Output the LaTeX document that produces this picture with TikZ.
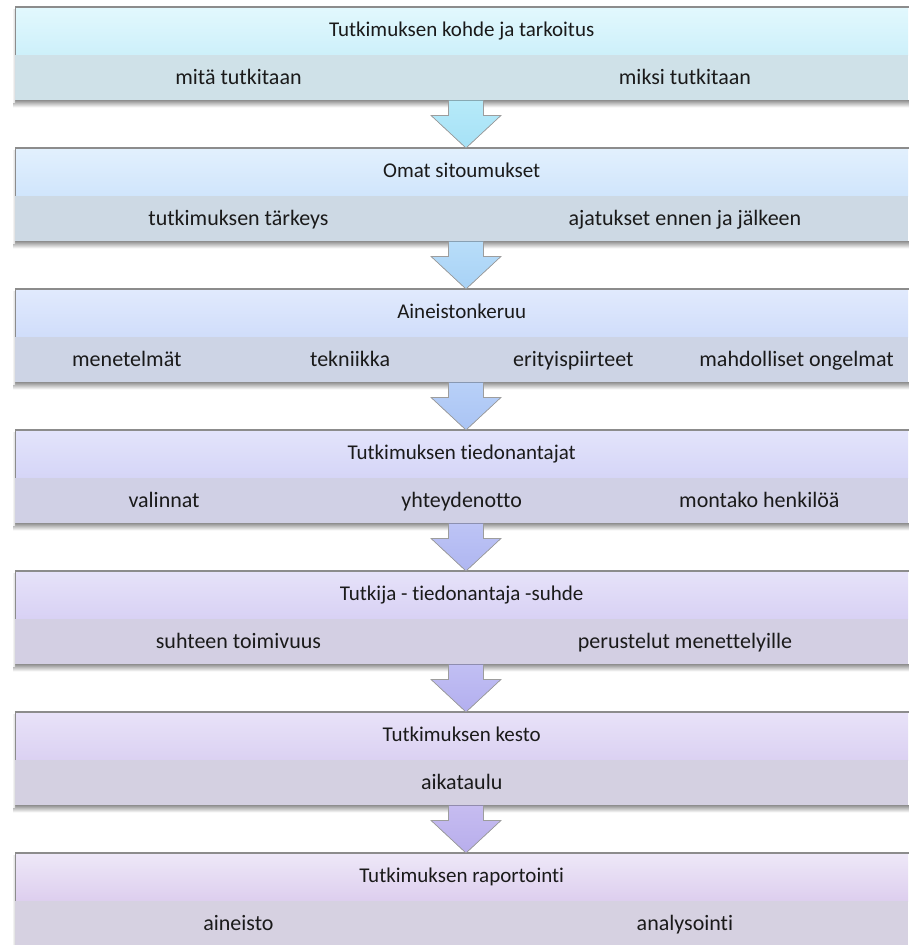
\documentclass[tikz,border=0pt]{standalone}
\usepackage{fontspec}
\setmainfont[Ligatures={NoCommon}]{Carlito}
\usetikzlibrary{calc}

% header gradients, sub-bar fills and arrow gradients for the seven stages
\definecolor{hdtopA}{HTML}{E2F8FD}\definecolor{hdbotA}{HTML}{CDF0FA}\definecolor{subA}{HTML}{CFE1E8}
\definecolor{hdtopB}{HTML}{E2F0FD}\definecolor{hdbotB}{HTML}{D0E5FC}\definecolor{subB}{HTML}{CDD9E4}
\definecolor{hdtopC}{HTML}{E1EAFD}\definecolor{hdbotC}{HTML}{D0DDFA}\definecolor{subC}{HTML}{CDD4E5}
\definecolor{hdtopD}{HTML}{E3E4FB}\definecolor{hdbotD}{HTML}{D5D5F7}\definecolor{subD}{HTML}{D0D0E5}
\definecolor{hdtopE}{HTML}{E6E2F9}\definecolor{hdbotE}{HTML}{D8D1F4}\definecolor{subE}{HTML}{D3CFE3}
\definecolor{hdtopF}{HTML}{E8E2F8}\definecolor{hdbotF}{HTML}{DBD1F2}\definecolor{subF}{HTML}{D4D0E1}
\definecolor{hdtopG}{HTML}{EEE8F8}\definecolor{hdbotG}{HTML}{DDCEEE}\definecolor{subG}{HTML}{D6D1E1}
\definecolor{artopA}{HTML}{B6EAF9}\definecolor{arbotA}{HTML}{A6E1F6}
\definecolor{artopB}{HTML}{B8DDF9}\definecolor{arbotB}{HTML}{A8D2F6}
\definecolor{artopC}{HTML}{B8D0F8}\definecolor{arbotC}{HTML}{AAC4F4}
\definecolor{artopD}{HTML}{BDC4F5}\definecolor{arbotD}{HTML}{AFB6F1}
\definecolor{artopE}{HTML}{C1BFF3}\definecolor{arbotE}{HTML}{B3AFEF}
\definecolor{artopF}{HTML}{C6BCF0}\definecolor{arbotF}{HTML}{B8AEEC}
\definecolor{edgegray}{HTML}{8C8C8C}
\definecolor{inkc}{HTML}{1A1A1A}

\tikzset{
  header/.style={font=\fontsize{21}{25}\selectfont, text=inkc,
    text height=14pt, text depth=4pt,
    draw=none, minimum width=893pt, minimum height=48pt,
    inner sep=0pt, anchor=north west, top color=hdtop#1, bottom color=hdbot#1},
  cell/.style={font=\fontsize{22}{26}\selectfont, text=inkc,
    text height=16pt, text depth=3pt,
    draw=none, minimum height=45pt, inner sep=0pt,
    anchor=north west, fill=sub#1},
  arrowfill/.style={top color=artop#1, bottom color=arbot#1},
  arrowedge/.style={draw=edgegray!85, line width=0.7pt, line join=miter},
}

% shadow under a stage, then its grey top and left frame lines
\newcommand{\stageframe}[2]{%
  \shade[top color=black!42, bottom color=white]
    ($(#2.south west)+(-2,0)$) rectangle ($(#2.south west)+(895,7)$);
  \shade[left color=white, right color=black!15]
    ($(#1.north west)+(-3,2)$) rectangle ($(#2.south west)+(0,2)$);
  \draw[edgegray, line width=1.4pt] (#1.north west) -- ($(#1.north west)+(895,0)$);
  \draw[edgegray, line width=1pt] (#1.north west) -- (#1.south west);
}

% block arrow from the bottom of one stage to the top of the next
\newcommand{\flowdown}[3]{%
  \fill[arrowfill=#3] let \p1=(#1.south), \p2=(#2.north) in
    (448.5pt,\y1) -- (483.5pt,\y1) -- (483.5pt,\y1-15pt)
    -- (501pt,\y1-15pt) -- (466pt,\y2) -- (431pt,\y1-15pt)
    -- (448.5pt,\y1-15pt) -- cycle;
  \draw[arrowedge] let \p1=(#1.south), \p2=(#2.north) in
    (448.5pt,\y1) -- (448.5pt,\y1-15pt) -- (431pt,\y1-15pt)
    -- (466pt,\y2) -- (501pt,\y1-15pt) -- (483.5pt,\y1-15pt)
    -- (483.5pt,\y1);
}

\begin{document}
\begin{tikzpicture}[x=1pt,y=-1pt]
\useasboundingbox (0,0) rectangle (908,945);

% ---- stage 1
\node[header=A] (h1) at (15,7) {Tutkimuksen kohde ja tarkoitus};
\node[cell=A, minimum width=446.5pt] (c11) at (15,55) {mitä tutkitaan};
\node[cell=A, minimum width=446.5pt] (c12) at (461.5,55) {miksi tutkitaan};
% ---- stage 2
\node[header=B] (h2) at (15,148) {Omat sitoumukset};
\node[cell=B, minimum width=446.5pt] (c21) at (15,196) {tutkimuksen tärkeys};
\node[cell=B, minimum width=446.5pt] (c22) at (461.5,196) {ajatukset ennen ja jälkeen};
% ---- stage 3
\node[header=C] (h3) at (15,289) {Aineistonkeruu};
\node[cell=C, minimum width=223.25pt] (c31) at (15,337) {menetelmät};
\node[cell=C, minimum width=223.25pt] (c32) at (238.25,337) {tekniikka};
\node[cell=C, minimum width=223.25pt] (c33) at (461.5,337) {erityispiirteet};
\node[cell=C, minimum width=223.25pt] (c34) at (684.75,337) {mahdolliset ongelmat};
% ---- stage 4
\node[header=D] (h4) at (15,430) {Tutkimuksen tiedonantajat};
\node[cell=D, minimum width=297.67pt] (c41) at (15,478) {valinnat};
\node[cell=D, minimum width=297.67pt] (c42) at (312.67,478) {yhteydenotto};
\node[cell=D, minimum width=297.67pt] (c43) at (610.33,478) {montako henkilöä};
% ---- stage 5
\node[header=E] (h5) at (15,571) {Tutkija - tiedonantaja -suhde};
\node[cell=E, minimum width=446.5pt] (c51) at (15,619) {suhteen toimivuus};
\node[cell=E, minimum width=446.5pt] (c52) at (461.5,619) {perustelut menettelyille};
% ---- stage 6
\node[header=F] (h6) at (15,712) {Tutkimuksen kesto};
\node[cell=F, minimum width=893pt] (c61) at (15,760) {aikataulu};
% ---- stage 7
\node[header=G] (h7) at (15,853) {Tutkimuksen raportointi};
\node[cell=G, minimum width=446.5pt] (c71) at (15,901) {aineisto};
\node[cell=G, minimum width=446.5pt] (c72) at (461.5,901) {analysointi};

% frames and shadows
\stageframe{h1}{c11}
\stageframe{h2}{c21}
\stageframe{h3}{c31}
\stageframe{h4}{c41}
\stageframe{h5}{c51}
\stageframe{h6}{c61}
\stageframe{h7}{c71}

% arrows between consecutive stages
\flowdown{c12}{h2}{A}
\flowdown{c22}{h3}{B}
\flowdown{c33}{h4}{C}
\flowdown{c42}{h5}{D}
\flowdown{c52}{h6}{E}
\flowdown{c61}{h7}{F}

\end{tikzpicture}
\end{document}
